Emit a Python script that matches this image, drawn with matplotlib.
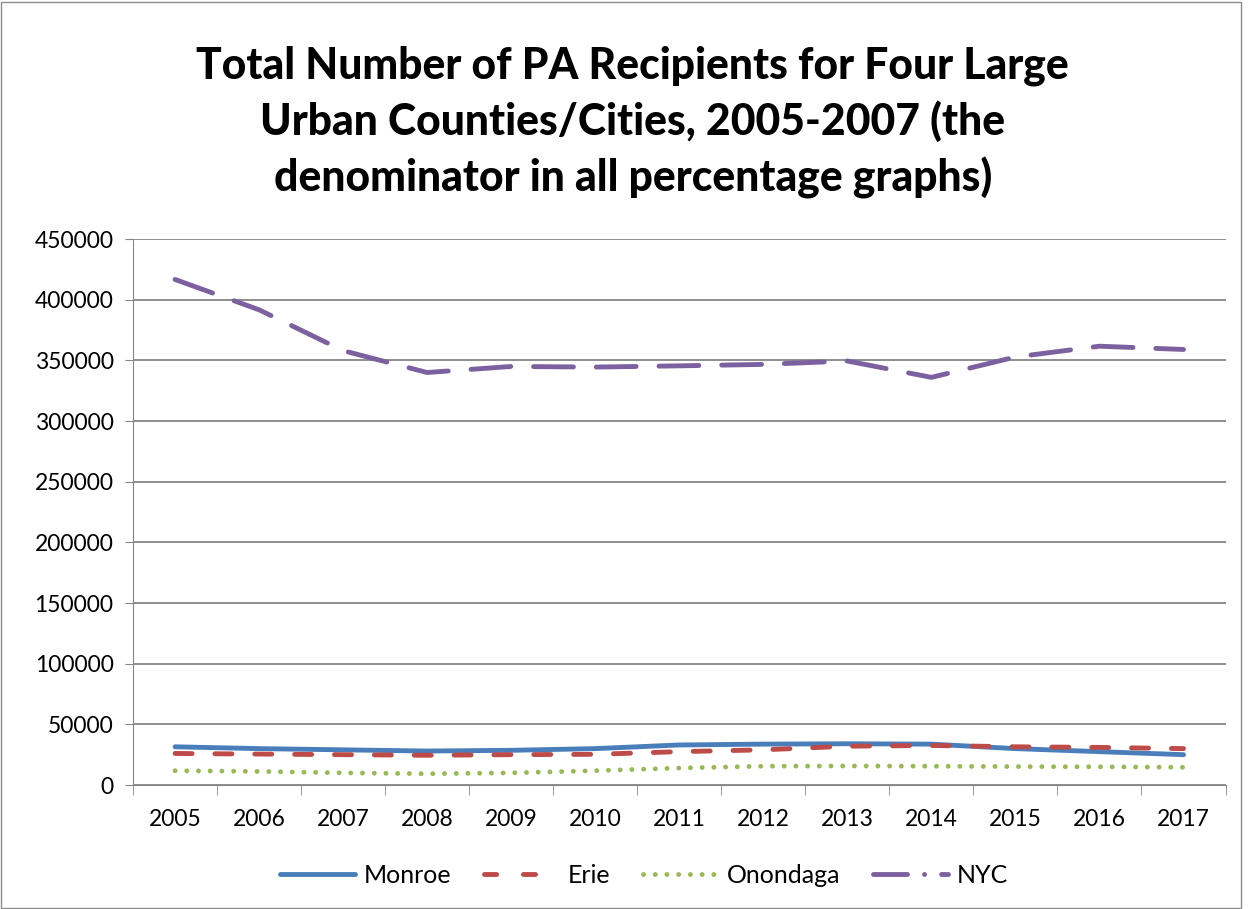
import matplotlib
matplotlib.use("Agg")
import matplotlib.pyplot as plt
from matplotlib.lines import Line2D
from matplotlib.patches import Rectangle

years = ["2005", "2006", "2007", "2008", "2009", "2010", "2011",
         "2012", "2013", "2014", "2015", "2016", "2017"]
monroe = [31500, 30000, 29000, 28000, 28600, 30000, 33000, 33700, 34000, 33700, 30000, 27500, 25000]
erie = [26000, 25500, 25000, 24500, 25000, 25300, 27500, 29000, 32000, 32600, 31500, 31000, 30000]
onondaga = [11800, 11200, 10000, 9300, 10000, 11800, 14000, 15500, 15700, 15500, 15200, 15000, 14600]
nyc = [416700, 391700, 358000, 340000, 345000, 344500, 345500, 346700, 349500, 336000, 352800, 361700, 359000]

names = ["Monroe", "Erie", "Onondaga", "NYC"]
colors = ["#4A7EBB", "#BE4B48", "#98B954", "#7D60A0"]
patterns = [None, (3.5, 4.7), (0.01, 2.4), (8.2, 4.7)]

plt.rcParams['font.family'] = ['Lato', 'DejaVu Sans']

fig = plt.figure(figsize=(12.48, 9.09), dpi=100)
fig.patches.append(Rectangle((0.001, 0.001), 0.993, 0.997, transform=fig.transFigure,
                             fill=False, edgecolor="#8c8c8c", linewidth=1))
ax = fig.add_axes([0.1066, 0.1364, 0.8754, 0.6006])

x = range(len(years))
for vals, name, c, pat in zip([monroe, erie, onondaga, nyc], names, colors, patterns):
    if pat is None:
        ax.plot(x, vals, color=c, lw=3.5, label=name, solid_capstyle="round")
    else:
        ax.plot(x, vals, color=c, lw=3.5, label=name, dashes=pat, dash_capstyle="round")

ax.set_xlim(-0.5, len(years) - 0.5)
ax.set_ylim(0, 450000)
ax.set_yticks(range(0, 450001, 50000))
ax.set_yticklabels([str(v) for v in range(0, 450001, 50000)], fontsize=16.5)
ax.set_xticks(list(x))
ax.set_xticklabels(years, fontsize=16.5)
ax.set_xticks([i - 0.5 for i in range(len(years) + 1)], minor=True)
ax.tick_params(axis="x", which="major", length=0, pad=17)
ax.tick_params(axis="x", which="minor", length=7, color="#868686")
ax.tick_params(axis="y", length=6, color="#868686", pad=8)
ax.grid(axis="y", color="#868686", lw=1.3)
ax.set_axisbelow(True)
for s in ["top", "right"]:
    ax.spines[s].set_visible(False)
ax.spines["left"].set_color("#868686")
ax.spines["bottom"].set_color("#868686")

fig.text(0.507, 0.866, "Total Number of PA Recipients for Four Large\nUrban Counties/Cities, 2005-2007 (the\ndenominator in all percentage graphs)",
         ha="center", va="center", fontsize=30.7, fontweight="black", linespacing=1.42)

# legend handles: NYC legend sample shows dash + dot
handles = [
    Line2D([], [], color=colors[0], lw=3.5, solid_capstyle="round"),
    Line2D([], [], color=colors[1], lw=3.5, dashes=(2.5, 5.5), dash_capstyle="round"),
    Line2D([], [], color=colors[2], lw=3.5, dashes=(0.01, 2.4), dash_capstyle="round"),
    Line2D([], [], color=colors[3], lw=3.5, dashes=(7, 3.5, 0.01, 3.5), dash_capstyle="round"),
]
fig.legend(handles, names, loc="center", bbox_to_anchor=(0.516, 0.037), ncol=4, frameon=False,
           fontsize=18, handlelength=3.0, columnspacing=1.3, handletextpad=0.35)

fig.savefig("out.png", dpi=100)
